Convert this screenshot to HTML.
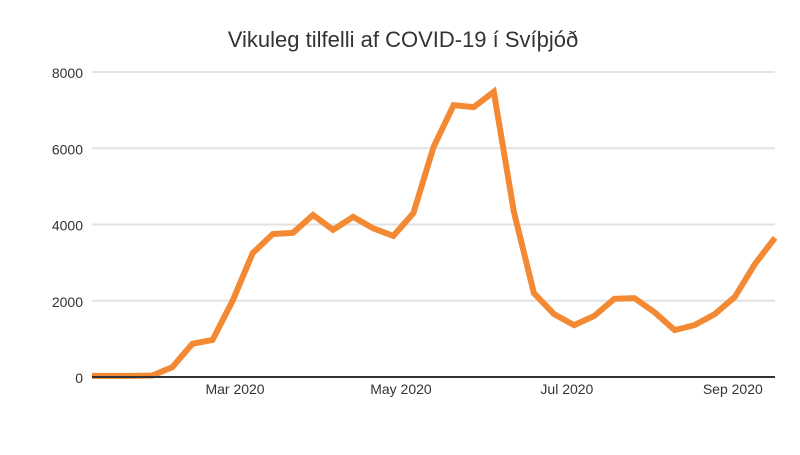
<!DOCTYPE html>
<html><head><meta charset="utf-8"><style>
body{margin:0;background:#fff;font-family:"Liberation Sans",sans-serif;}
svg text{font-family:"Liberation Sans",sans-serif;}
</style></head><body>
<svg id="c" width="800" height="450">
<text x="403" y="47" text-anchor="middle" font-size="22" fill="#333">Vikuleg tilfelli af COVID-19 í Svíþjóð</text>
<g id="grid"></g><g id="xt"></g><path id="line" fill="none" stroke="#f38a33" stroke-width="6" stroke-linejoin="miter"></path>
<line x1="92" x2="775" y1="377" y2="377" stroke="#333" stroke-width="2"></line>
</svg>
<script>
const values=[30,30,30,40,260,870,970,2000,3250,3750,3780,4250,3860,4200,3900,3700,4300,6030,7130,7080,7480,4330,2200,1650,1360,1600,2050,2070,1700,1230,1360,1650,2100,2960,3650];
const yTicks=[0,2000,4000,6000,8000];
const xTickLabels=["Mar 2020","May 2020","Jul 2020","Sep 2020"];
const xTickIdx=[7.12,15.38,23.64,31.9];
const x0=92,x1=775,y0=377,y1=72;
const xs=i=>x0+i*(x1-x0)/(values.length-1);
const ys=v=>y0-(v/8000)*(y0-y1);
const NS="http://www.w3.org/2000/svg";
const grid=document.getElementById('grid');
yTicks.forEach(t=>{
  const l=document.createElementNS(NS,'line');
  l.setAttribute('x1',x0);l.setAttribute('x2',x1);l.setAttribute('y1',ys(t));l.setAttribute('y2',ys(t));
  l.setAttribute('stroke','#e2e2e2');l.setAttribute('stroke-width','2');
  
  
  grid.appendChild(l);
  const tx=document.createElementNS(NS,'text');
  tx.setAttribute('x',83);tx.setAttribute('y',ys(t)+6);tx.setAttribute('text-anchor','end');
  tx.setAttribute('font-size','14');tx.setAttribute('fill','#333');tx.textContent=t;
  
  
  grid.appendChild(tx);
});
const xt=document.getElementById('xt');
xTickLabels.forEach((s,i)=>{
  const tx=document.createElementNS(NS,'text');
  tx.setAttribute('x',xs(xTickIdx[i]));tx.setAttribute('y',394);tx.setAttribute('text-anchor','middle');
  tx.setAttribute('font-size','14');tx.setAttribute('fill','#333');tx.textContent=s;
  
  
  xt.appendChild(tx);
});
document.getElementById('line').setAttribute('d',values.map((v,i)=>(i?'L':'M')+xs(i).toFixed(1)+','+ys(v).toFixed(1)).join(''));
</script>
</body></html>
